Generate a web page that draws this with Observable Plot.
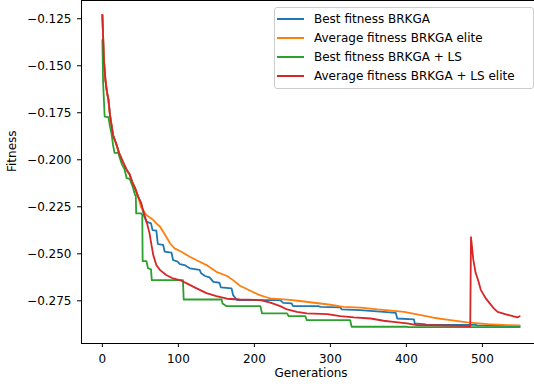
<!DOCTYPE html>
<html>
<head>
<meta charset="utf-8">
<script src="https://cdn.jsdelivr.net/npm/d3@7"></script>
<script src="https://cdn.jsdelivr.net/npm/@observablehq/plot@0.6"></script>
<style>
  body { margin: 0; background: #fff; }
  #chart { position: relative; width: 534px; height: 389px; overflow: hidden; font-family: "DejaVu Sans", sans-serif; }
  #chart svg { display: block; max-width: none !important; width: 540px !important; height: 389px !important; }
  .legend { position: absolute; left: 274px; top: 7px; width: 260px; height: 82px; box-sizing: border-box;
            border: 1px solid #cccccc; border-radius: 3px; background: rgba(255,255,255,0.8); font-size: 12px; color: #000; }
  .legend .row { position: absolute; left: 2px; height: 19px; display: flex; align-items: center; white-space: nowrap; }
  .legend .swatch { width: 27px; height: 2px; margin-right: 10px; }
</style>
</head>
<body>
<div id="chart"></div>
<script>
// Fitness per generation, as [generation, fitness] pairs
const bestBrkga = [
  [0,-0.1229],[2,-0.1468],[4,-0.1575],[6,-0.1639],[8,-0.1681],[10,-0.1761],[11,-0.1788],[14,-0.1868],
  [18,-0.1912],[22,-0.1964],[27,-0.2011],[32,-0.2054],[36,-0.2078],[39,-0.2116],[43,-0.2151],[47,-0.2196],
  [51,-0.2231],[55,-0.2300],[58,-0.2329],[64,-0.2338],[66,-0.2374],[71,-0.2377],[73,-0.2448],[80,-0.2453],
  [82,-0.2489],[91,-0.2494],[93,-0.2533],[99,-0.2542],[102,-0.2555],[108,-0.2560],[115,-0.2577],[128,-0.2586],
  [130,-0.2604],[135,-0.2618],[141,-0.2625],[146,-0.2649],[154,-0.2654],[156,-0.2679],[170,-0.2684],[172,-0.2720],
  [177,-0.2746],[234,-0.2746],[238,-0.2761],[249,-0.2764],[251,-0.2778],[284,-0.2778],[287,-0.2782],[313,-0.2785],
  [315,-0.2796],[339,-0.2800],[370,-0.2809],[386,-0.2814],[388,-0.2844],[410,-0.2849],[411,-0.2870],[423,-0.2874],
  [427,-0.2878],[491,-0.2878],[493,-0.2881],[549,-0.2885]
];
const avgBrkgaElite = [
  [0,-0.1229],[2,-0.1468],[4,-0.1575],[6,-0.1639],[8,-0.1681],[10,-0.1761],[11,-0.1788],[14,-0.1868],
  [18,-0.1912],[22,-0.1964],[27,-0.2011],[32,-0.2054],[36,-0.2078],[39,-0.2116],[43,-0.2151],[47,-0.2196],
  [51,-0.2252],[58,-0.2294],[67,-0.2320],[71,-0.2338],[76,-0.2356],[80,-0.2383],[84,-0.2409],[89,-0.2444],
  [95,-0.2471],[104,-0.2489],[115,-0.2516],[128,-0.2542],[137,-0.2560],[150,-0.2596],[164,-0.2618],[172,-0.2640],
  [181,-0.2670],[194,-0.2695],[207,-0.2720],[216,-0.2731],[221,-0.2737],[243,-0.2744],[260,-0.2751],[276,-0.2759],
  [300,-0.2771],[317,-0.2782],[340,-0.2786],[362,-0.2796],[380,-0.2802],[397,-0.2809],[419,-0.2826],[436,-0.2840],
  [458,-0.2853],[480,-0.2865],[507,-0.2874],[533,-0.2879],[549,-0.2881]
];
const bestBrkgaLs = [
  [0,-0.1362],[1,-0.1592],[3,-0.1770],[8,-0.1773],[10,-0.1823],[12,-0.1859],[14,-0.1920],[16,-0.1963],
  [21,-0.1963],[23,-0.1992],[26,-0.2027],[29,-0.2049],[32,-0.2098],[36,-0.2102],[40,-0.2145],[43,-0.2187],
  [44,-0.2192],[44.5,-0.2285],[51,-0.2285],[52.5,-0.2294],[53,-0.2539],[58,-0.2539],[60,-0.2577],[64,-0.2583],
  [65,-0.2640],[106,-0.2640],[107,-0.2743],[157,-0.2743],[158,-0.2764],[163,-0.2778],[208,-0.2778],[210,-0.2817],
  [243,-0.2817],[245,-0.2831],[267,-0.2831],[269,-0.2853],[326,-0.2853],[328,-0.2888],[401,-0.2888],[403,-0.2890],
  [549,-0.2890]
];
const avgBrkgaLsElite = [
  [0,-0.1229],[2,-0.1468],[4,-0.1575],[6,-0.1639],[8,-0.1681],[10,-0.1761],[11,-0.1788],[14,-0.1868],
  [18,-0.1912],[22,-0.1964],[27,-0.2011],[32,-0.2054],[36,-0.2078],[39,-0.2116],[43,-0.2151],[47,-0.2196],
  [51,-0.2231],[55,-0.2288],[59,-0.2342],[62,-0.2390],[65,-0.2462],[67,-0.2507],[71,-0.2560],[76,-0.2587],
  [84,-0.2613],[93,-0.2631],[104,-0.2643],[111,-0.2657],[124,-0.2684],[137,-0.2709],[150,-0.2725],[164,-0.2739],
  [181,-0.2743],[208,-0.2746],[221,-0.2760],[234,-0.2778],[243,-0.2796],[256,-0.2809],[269,-0.2817],[296,-0.2821],
  [313,-0.2831],[331,-0.2838],[353,-0.2844],[370,-0.2856],[383,-0.2862],[401,-0.2870],[414,-0.2879],[436,-0.2880],
  [484,-0.2885],[485,-0.2412],[486,-0.2450],[488,-0.2530],[491,-0.2600],[494,-0.2635],[498,-0.2693],[505,-0.2740],
  [510,-0.2765],[515,-0.2790],[520,-0.2809],[530,-0.2821],[540,-0.2832],[546,-0.2838],[549,-0.2832]
];

const seriesNames = ["Best fitness BRKGA", "Average fitness BRKGA elite", "Best fitness BRKGA + LS", "Average fitness BRKGA + LS elite"];
const seriesColors = ["#1f77b4", "#ff7f0e", "#2ca02c", "#d62728"];
const xTicks = [0, 100, 200, 300, 400, 500];
const yTicks = [-0.125, -0.150, -0.175, -0.200, -0.225, -0.250, -0.275];
const xDomain = [-27.45, 576.45];
const yDomain = [-0.2977, -0.1153];

const allSeries = [bestBrkga, avgBrkgaElite, bestBrkgaLs, avgBrkgaLsElite];

const chart = Plot.plot({
  width: 540,
  height: 389,
  marginLeft: 81,
  marginRight: 0,
  marginTop: 0,
  marginBottom: 46,
  style: { fontFamily: "DejaVu Sans", fontSize: "12px", color: "#000", background: "#fff", overflow: "visible" },
  x: { domain: xDomain },
  y: { domain: yDomain },
  marks: [
    ...allSeries.map((s, i) => Plot.line(s, { x: d => d[0], y: d => d[1], stroke: seriesColors[i], strokeWidth: 1.8 })),
    Plot.frame({ stroke: "#000", strokeWidth: 1 }),
    Plot.axisX(xTicks, { tickSize: 4, tickPadding: 7, label: null, fontSize: 12 }),
    Plot.axisY(yTicks, { tickSize: 4, tickPadding: 6, label: null, fontSize: 12, tickFormat: d3.format(".3f") }),
    Plot.text(["Generations"], { text: d => d, frameAnchor: "bottom", dy: 33, fontSize: 12 }),
    Plot.text(["Fitness"], { text: d => d, frameAnchor: "left", dx: -69, rotate: -90, fontSize: 12 })
  ]
});

const root = document.getElementById("chart");
root.appendChild(chart);

// Legend box in the upper right corner
const legend = document.createElement("div");
legend.className = "legend";
seriesNames.forEach((name, i) => {
  const row = document.createElement("div");
  row.className = "row";
  row.style.top = (1.5 + i * 19.1) + "px";
  const sw = document.createElement("span");
  sw.className = "swatch";
  sw.style.background = seriesColors[i];
  const label = document.createElement("span");
  label.textContent = name;
  row.appendChild(sw);
  row.appendChild(label);
  legend.appendChild(row);
});
root.appendChild(legend);
</script>
</body>
</html>
